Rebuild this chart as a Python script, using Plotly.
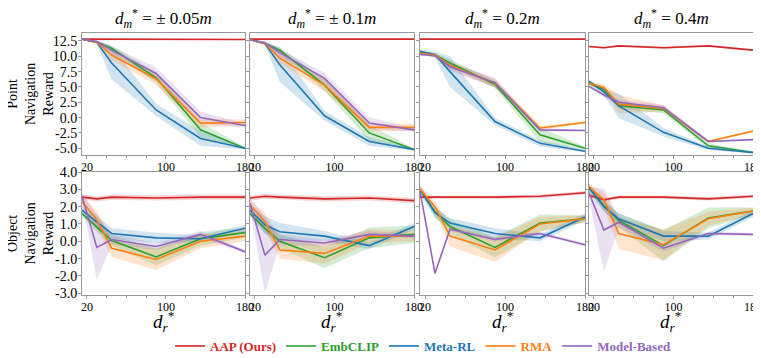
import plotly.graph_objects as go
from plotly.subplots import make_subplots

# x positions (d_r*) shared by all panels
x_dr = [15, 30, 45, 90, 135, 180]
dm_labels = ["± 0.05", "± 0.1", "0.2", "0.4"]
series_names = ["AAP (Ours)", "EmbCLIP", "Meta-RL", "RMA", "Model-Based"]

# Point navigation reward, one list per panel
aap_point = [[12.8, 12.8, 12.8, 12.8, 12.8, 12.75],
             [12.8, 12.8, 12.8, 12.8, 12.8, 12.8],
             [12.8, 12.8, 12.8, 12.8, 12.8, 12.8],
             [11.6, 11.4, 11.7, 11.4, 11.7, 11.0]]
embclip_point = [[12.8, 12.3, 11.3, 6.5, -2.0, -5.0],
                 [12.7, 12.1, 11.0, 5.3, -2.5, -5.2],
                 [10.6, 10.2, 8.9, 5.4, -2.8, -5.0],
                 [5.6, 4.6, 1.95, 1.25, -4.6, -5.7]]
meta_point = [[12.8, 12.3, 8.9, 1.25, -3.4, -5.0],
              [12.7, 12.1, 8.6, 0.3, -3.9, -5.2],
              [10.8, 10.3, 7.5, -0.65, -4.2, -5.5],
              [5.9, 4.2, 1.9, -2.4, -5.0, -5.7]]
rma_point = [[12.8, 12.3, 10.2, 6.3, -0.9, -0.8],
             [12.7, 12.1, 9.7, 5.3, -1.6, -1.6],
             [10.5, 10.2, 8.5, 5.6, -1.7, -0.8],
             [5.6, 4.9, 2.2, 1.5, -3.9, -2.2]]
mb_point = [[12.8, 12.4, 11.0, 7.2, 0.0, -1.3],
            [12.7, 12.2, 10.6, 6.4, -0.9, -2.0],
            [10.3, 10.1, 8.3, 5.7, -2.0, -2.1],
            [5.1, 3.7, 2.5, 1.6, -3.9, -3.6]]

# spread (half width of shaded band)
aap_point_sd = [[0.1, 0.1, 0.1, 0.1, 0.1, 0.1],
                [0.1, 0.1, 0.1, 0.1, 0.1, 0.1],
                [0.1, 0.1, 0.1, 0.1, 0.1, 0.1],
                [0.15, 0.15, 0.15, 0.2, 0.15, 0.15]]
embclip_point_sd = [[0.1, 0.2, 0.5, 0.8, 1.2, 0.2],
                    [0.1, 0.2, 0.5, 0.9, 1.3, 0.2],
                    [0.2, 0.3, 0.6, 0.6, 1.2, 0.3],
                    [0.3, 0.4, 0.5, 0.6, 0.4, 0.2]]
meta_point_sd = [[0.1, 0.3, 2.7, 1.0, 1.2, 0.2],
                 [0.1, 0.3, 2.8, 0.8, 0.7, 0.2],
                 [0.3, 0.5, 2.5, 0.6, 0.5, 0.2],
                 [0.3, 0.5, 2.0, 0.7, 0.3, 0.2]]
rma_point_sd = [[0.1, 0.2, 0.8, 1.0, 0.7, 0.5],
                [0.1, 0.2, 0.9, 1.0, 0.6, 0.6],
                [0.2, 0.3, 0.6, 0.7, 0.3, 0.2],
                [0.3, 0.5, 1.5, 0.5, 0.2, 0.1]]
mb_point_sd = [[0.1, 0.2, 0.6, 1.0, 1.0, 0.3],
               [0.1, 0.2, 0.6, 0.9, 0.9, 0.3],
               [0.2, 0.3, 0.7, 0.8, 0.3, 0.1],
               [0.2, 0.4, 0.4, 0.5, 0.2, 0.1]]

# Object navigation reward
aap_obj = [[2.55, 2.45, 2.55, 2.5, 2.55, 2.55],
           [2.5, 2.6, 2.55, 2.45, 2.5, 2.35],
           [2.55, 2.55, 2.55, 2.55, 2.6, 2.8],
           [2.65, 2.4, 2.55, 2.55, 2.45, 2.6]]
embclip_obj = [[1.6, 0.85, 0.05, -0.9, 0.15, 0.5],
               [1.6, 0.75, 0.0, -0.95, 0.2, 0.4],
               [3.0, 1.7, 0.85, -0.35, 1.05, 1.3],
               [3.1, 2.05, 1.2, -0.25, 1.35, 1.75]]
meta_obj = [[1.8, 1.1, 0.45, 0.2, 0.15, 0.75],
            [1.8, 0.95, 0.55, 0.3, -0.25, 0.85],
            [3.0, 1.65, 1.05, 0.45, 0.2, 1.4],
            [3.1, 2.0, 1.3, 0.3, 0.3, 1.6]]
rma_obj = [[2.3, 1.25, -0.4, -1.05, 0.0, 0.3],
           [2.1, 1.15, -0.5, -0.7, 0.3, 0.3],
           [3.0, 2.0, 0.3, -0.5, 1.0, 1.3],
           [3.15, 2.4, 0.45, -0.2, 1.3, 1.75]]
mb_obj = [[2.6, -0.35, 0.1, -0.3, 0.4, -0.6],
          [2.2, -0.8, 0.1, -0.1, 0.4, 0.3],
          [2.9, -1.85, 0.7, 0.1, 0.45, -0.2],
          [2.8, 0.65, 1.1, -0.4, 0.45, 0.4]]

aap_obj_sd = [[0.15, 0.15, 0.15, 0.15, 0.15, 0.15],
              [0.15, 0.15, 0.15, 0.15, 0.15, 0.15],
              [0.1, 0.1, 0.1, 0.1, 0.1, 0.1],
              [0.1, 0.1, 0.1, 0.1, 0.1, 0.1]]
embclip_obj_sd = [[0.2, 0.3, 0.3, 0.5, 0.4, 0.3],
                  [0.2, 0.3, 0.4, 0.6, 0.6, 0.5],
                  [0.2, 0.3, 0.4, 0.6, 0.5, 0.2],
                  [0.2, 0.3, 0.4, 0.9, 0.6, 0.2]]
meta_obj_sd = [[0.2, 0.4, 0.3, 0.3, 0.2, 0.2],
               [0.3, 0.5, 0.5, 0.3, 0.2, 0.2],
               [0.2, 0.3, 0.3, 0.3, 0.2, 0.2],
               [0.2, 0.3, 0.3, 0.3, 0.2, 0.2]]
rma_obj_sd = [[0.3, 0.5, 0.5, 0.6, 0.4, 0.3],
              [0.3, 0.5, 0.5, 0.6, 0.4, 0.3],
              [0.2, 0.3, 0.6, 0.7, 0.4, 0.2],
              [0.2, 0.4, 0.9, 0.9, 0.4, 0.2]]
mb_obj_sd = [[0.2, 1.9, 0.3, 0.2, 0.2, 0.1],
             [0.3, 2.2, 0.3, 0.2, 0.2, 0.1],
             [0.1, 0.1, 0.1, 0.1, 0.1, 0.1],
             [0.3, 2.4, 0.3, 0.2, 0.1, 0.1]]

point_ticks = [-5.0, -2.5, 0.0, 2.5, 5.0, 7.5, 10.0, 12.5]
obj_ticks = [-3.0, -2.0, -1.0, 0.0, 1.0, 2.0, 3.0, 4.0]
x_ticks = [20, 100, 180]
x_minor = [40, 60, 80, 120, 140, 160]

colors = ["#d62728", "#2ca02c", "#1f77b4", "#ff7f0e", "#9467bd"]
fills = ["rgba(214,39,40,0.2)", "rgba(44,160,44,0.2)", "rgba(31,119,180,0.2)",
         "rgba(255,127,14,0.2)", "rgba(148,103,189,0.2)"]

rows = [
    ([aap_point, embclip_point, meta_point, rma_point, mb_point],
     [aap_point_sd, embclip_point_sd, meta_point_sd, rma_point_sd, mb_point_sd]),
    ([aap_obj, embclip_obj, meta_obj, rma_obj, mb_obj],
     [aap_obj_sd, embclip_obj_sd, meta_obj_sd, rma_obj_sd, mb_obj_sd]),
]

# page body adds an 8px margin, so the figure is 8px smaller and
# positions below are given in window pixels, then shifted
OFF = 8
W, H = 761 - OFF, 358 - OFF
FONT = "Times New Roman, Liberation Serif, serif"


def px_x(p):
    return (p - OFF) / W


def px_y(p):
    return 1 - (p - OFF) / H


fig = make_subplots(rows=2, cols=4)

for r, (means, sds) in enumerate(rows):
    for c in range(4):
        # shaded bands first
        for s in range(5):
            m = means[s][c]
            d = sds[s][c]
            upper = [a + b for a, b in zip(m, d)]
            lower = [a - b for a, b in zip(m, d)]
            fig.add_trace(go.Scatter(x=x_dr + x_dr[::-1], y=upper + lower[::-1],
                                     fill="toself", fillcolor=fills[s],
                                     line=dict(width=0), mode="lines",
                                     hoverinfo="skip", showlegend=False),
                          row=r + 1, col=c + 1)
        for s in range(5):
            name = "<b><span style='color:%s'>%s</span></b>" % (colors[s], series_names[s])
            fig.add_trace(go.Scatter(x=x_dr, y=means[s][c], mode="lines",
                                     line=dict(color=colors[s], width=1.6),
                                     name=name, showlegend=(r == 0 and c == 0)),
                          row=r + 1, col=c + 1)

col_px = [(82, 245), (250, 414), (420, 585), (589, 753)]
row_px = [(33, 155), (172, 295)]

for r in range(2):
    for c in range(4):
        i = r * 4 + c + 1
        sfx = "" if i == 1 else str(i)
        x0, x1 = col_px[c]
        y0, y1 = row_px[r]
        ticks = point_ticks if r == 0 else obj_ticks
        yr = [-6.1, 13.8] if r == 0 else [-3.1, 4.0]
        fig.layout["xaxis" + sfx].update(
            domain=[px_x(x0), px_x(x1)], range=[15, 180],
            tickvals=x_ticks, ticktext=[str(v) for v in x_ticks],
            ticks="outside", ticklen=3, tickcolor="#999",
            ticklabelstandoff=-2, ticklabeloverflow="allow",
            minor=dict(tickvals=x_minor, ticks="outside", ticklen=2, tickcolor="#999"),
            showline=True, mirror=True, linecolor="#999", linewidth=1,
            showgrid=False, zeroline=False,
            tickfont=dict(family=FONT, size=12, color="black"))
        fig.layout["yaxis" + sfx].update(
            domain=[px_y(y1), px_y(y0)], range=yr,
            tickvals=ticks, ticktext=["%.1f" % v for v in ticks],
            showticklabels=(c == 0),
            ticks="outside", ticklen=3, tickcolor="#999",
            ticklabelstandoff=-2, ticklabeloverflow="allow",
            showline=True, mirror=True, linecolor="#999", linewidth=1,
            showgrid=False, zeroline=False,
            tickfont=dict(family=FONT, size=14, color="black"))

annotations = []
for c in range(4):
    xc = px_x((col_px[c][0] + col_px[c][1]) / 2)
    annotations.append(dict(
        text="<i>d</i><sub><i>m</i></sub><sup>*</sup> = %s<i>m</i>" % dm_labels[c],
        x=xc, y=px_y(18), xref="paper", yref="paper",
        xanchor="center", yanchor="middle", showarrow=False,
        font=dict(family=FONT, size=17, color="black")))
    annotations.append(dict(
        text="<i>d</i><sub><i>r</i></sub><sup>*</sup>",
        x=xc, y=px_y(321), xref="paper", yref="paper",
        xanchor="center", yanchor="middle", showarrow=False,
        font=dict(family=FONT, size=19, color="black")))

for r, label in enumerate(["Point<br>Navigation<br>Reward", "Object<br>Navigation<br>Reward"]):
    yc = px_y((row_px[r][0] + row_px[r][1]) / 2)
    annotations.append(dict(
        text=label, x=px_x(30), y=yc, xref="paper", yref="paper",
        xanchor="center", yanchor="middle", textangle=-90, showarrow=False,
        font=dict(family=FONT, size=14, color="black")))

fig.update_layout(
    width=W, height=H,
    margin=dict(l=0, r=0, t=0, b=0, autoexpand=False),
    paper_bgcolor="white", plot_bgcolor="white",
    font=dict(family=FONT, size=13, color="black"),
    annotations=annotations,
    legend=dict(orientation="h", x=px_x(170), y=px_y(346),
                xanchor="left", yanchor="middle", itemwidth=30,
                font=dict(family=FONT, size=13)),
)

fig.write_html("out.html")
